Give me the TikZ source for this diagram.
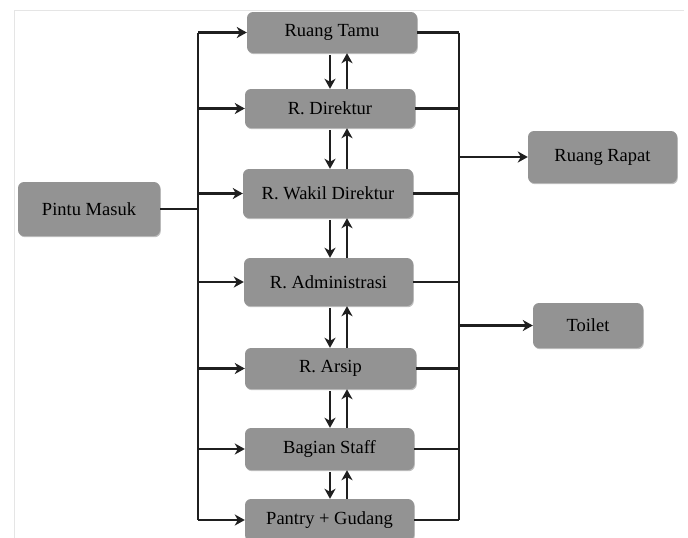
\documentclass[tikz,border=0pt]{standalone}
\usepackage{fontspec}
\setmainfont{Liberation Serif}
\usetikzlibrary{arrows.meta,shadows}
\begin{document}
\begin{tikzpicture}[x=1pt,y=-1pt,
  room/.style={rectangle, rounded corners=6pt, fill=boxgray, draw=none,
    text=black, font=\fontsize{18.5}{20}\selectfont, inner sep=0pt,
    drop shadow={shadow xshift=0.8pt, shadow yshift=-1.2pt, opacity=0.25, fill=black}},
  line/.style={line width=2.6pt, draw=black!88},
  arr/.style={line width=2.6pt, draw=black!88, -{Stealth[length=10pt,width=11pt,inset=3pt]}},
]
\definecolor{boxgray}{HTML}{939393}
\useasboundingbox (0,0) rectangle (688,538);
\fill[white] (0,0) rectangle (688,538);
\draw[black!10, line width=1pt] (14,538) -- (14,10) -- (684,10);

% nodes
\node[room, minimum width=142pt, minimum height=54pt] (pm)  at (89,209)    {Pintu Masuk};
\node[room, minimum width=170pt, minimum height=41pt] (rt)  at (332,32.5)  {Ruang Tamu};
\node[room, minimum width=170pt, minimum height=39pt] (rd)  at (330,108.5) {R. Direktur};
\node[room, minimum width=170pt, minimum height=49pt] (rwd) at (328,193.5) {R. Wakil Direktur};
\node[room, minimum width=169pt, minimum height=48pt] (ra)  at (328.5,282) {R. Administrasi};
\node[room, minimum width=171pt, minimum height=41pt] (rar) at (330.5,368.5) {R. Arsip};
\node[room, minimum width=169pt, minimum height=42pt] (bs)  at (329.5,449) {Bagian Staff};
\node[room, minimum width=169pt, minimum height=42pt] (pg)  at (329.5,520) {Pantry + Gudang};
\node[room, minimum width=149pt, minimum height=52pt] (rr)  at (602.5,157) {Ruang Rapat};
\node[room, minimum width=110pt, minimum height=45pt] (to)  at (588,325.5) {Toilet};

% trunk coordinates
\coordinate (L) at (198,0);
\coordinate (R) at (459,0);
\coordinate (D) at (330,0);
\coordinate (U) at (347,0);

% left trunk
\draw[line] (L |- rt) -- (L |- pg);
\draw[line] (pm.east) -- (L |- pm);
\foreach \n in {rt,rd,rwd,ra,rar,bs,pg}{
  \draw[arr] (L |- \n) -- (\n.west);
}

% right trunk
\draw[line] (R |- rt) -- (R |- pg);
\foreach \n in {rt,rd,rwd,ra,rar,bs,pg}{
  \draw[line] (\n.east) -- (R |- \n);
}
\draw[arr] (R |- rr) -- (rr.west);
\draw[arr] (R |- to) -- (to.west);

% vertical double arrows
\foreach \a/\b in {rt/rd,rd/rwd,rwd/ra,ra/rar,rar/bs,bs/pg}{
  \draw[arr] ([yshift=-2pt]\a.south -| D) -- (\b.north -| D);
  \draw[arr] (\b.north -| U) -- (\a.south -| U);
}
\end{tikzpicture}
\end{document}
